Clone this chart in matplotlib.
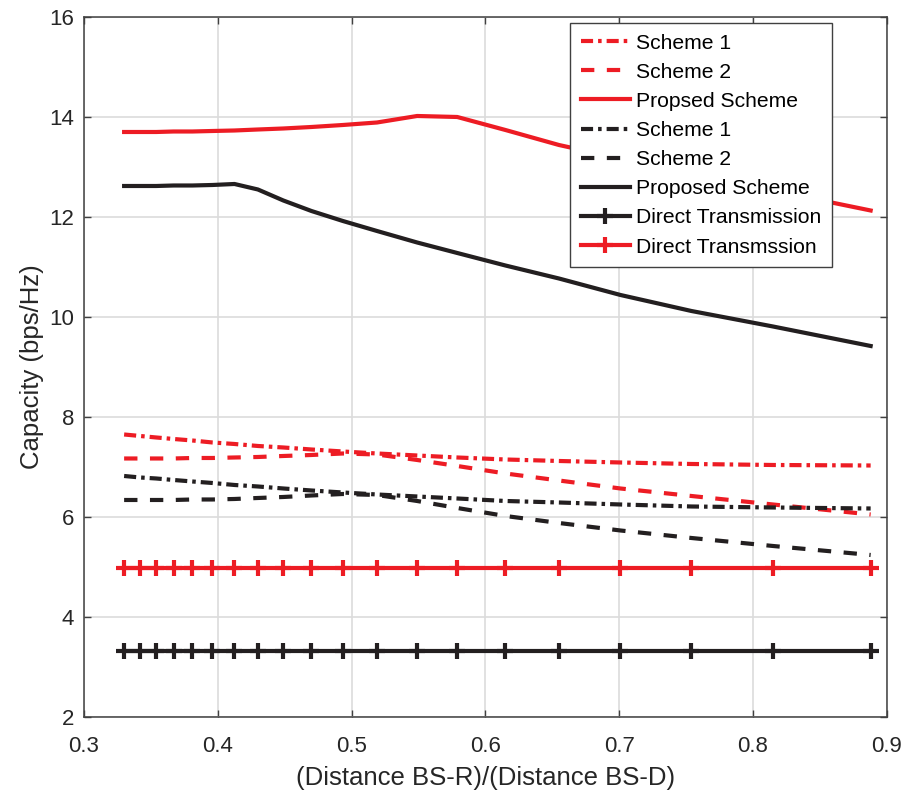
import numpy as np
import matplotlib
matplotlib.use("Agg")
from matplotlib import pyplot as plt

plt.rcParams['font.family'] = ['Liberation Sans', 'DejaVu Sans']

# distance ratio grid
ratio = [0.330, 0.342, 0.354, 0.367, 0.381, 0.396, 0.4125, 0.430, 0.449, 0.470,
         0.4935, 0.519, 0.549, 0.579, 0.615, 0.655, 0.701, 0.754, 0.815, 0.888]

# red curves
red_s1 = [7.65, 7.62, 7.59, 7.56, 7.53, 7.49, 7.46, 7.42, 7.39, 7.35,
          7.31, 7.27, 7.23, 7.19, 7.15, 7.12, 7.09, 7.06, 7.04, 7.03]
red_s2 = [7.17, 7.17, 7.17, 7.17, 7.18, 7.18, 7.19, 7.20, 7.22, 7.24,
          7.27, 7.25, 7.14, 7.02, 6.87, 6.73, 6.57, 6.42, 6.25, 6.05]
red_prop = [13.70, 13.70, 13.70, 13.71, 13.71, 13.72, 13.73, 13.75, 13.77, 13.80,
            13.84, 13.89, 14.02, 14.00, 13.74, 13.44, 13.17, 12.87, 12.53, 12.13]
red_direct = [4.98] * 20

# black curves
blk_s1 = [6.82, 6.79, 6.77, 6.74, 6.71, 6.68, 6.64, 6.61, 6.57, 6.53,
          6.49, 6.45, 6.41, 6.37, 6.32, 6.29, 6.25, 6.21, 6.19, 6.17]
blk_s2 = [6.34, 6.34, 6.34, 6.34, 6.35, 6.35, 6.36, 6.38, 6.40, 6.43,
          6.46, 6.44, 6.32, 6.18, 6.02, 5.88, 5.73, 5.58, 5.42, 5.24]
blk_prop = [12.62, 12.62, 12.62, 12.63, 12.63, 12.64, 12.66, 12.55, 12.33, 12.12,
            11.92, 11.72, 11.49, 11.28, 11.03, 10.77, 10.44, 10.12, 9.81, 9.42]
blk_direct = [3.32] * 20

red = '#ed1c24'
blk = '#231f20'
txt = '#262626'
lw = 3.0
dashdot = (0, (2.9, 1.2, 0.85, 1.2))
dashed = (0, (3.2, 3.0))

fig = plt.figure(figsize=(9.06, 7.94), dpi=100)
ax = fig.add_axes([0.0927, 0.097, 0.886, 0.8816])

ax.plot(ratio, red_s1, linestyle=dashdot, color=red, lw=lw, label='Scheme 1')
ax.plot(ratio, red_s2, linestyle=dashed, color=red, lw=lw, label='Scheme 2')
ax.plot(ratio, red_prop, '-', color=red, lw=lw, label='Propsed Scheme')
ax.plot(ratio, blk_s1, linestyle=dashdot, color=blk, lw=lw, label='Scheme 1')
ax.plot(ratio, blk_s2, linestyle=dashed, color=blk, lw=lw, label='Scheme 2')
ax.plot(ratio, blk_prop, '-', color=blk, lw=lw, label='Proposed Scheme')
ax.plot(ratio, blk_direct, '-', marker='+', ms=11, mew=3.0, color=blk, lw=lw,
        label='Direct Transmission')
ax.plot(ratio, red_direct, '-', marker='+', ms=11, mew=3.0, color=red, lw=lw,
        label='Direct Transmssion')

ax.set_xlim(0.3, 0.9)
ax.set_ylim(2, 16)
ax.set_xticks(np.arange(0.3, 0.91, 0.1))
ax.set_yticks(np.arange(2, 17, 2))
ax.set_xticklabels(['0.3', '0.4', '0.5', '0.6', '0.7', '0.8', '0.9'])
ax.grid(True, color='#dcdcdc', lw=1.2)
ax.set_axisbelow(True)
ax.tick_params(direction='in', top=True, right=True, length=5, width=1,
               colors='#404040', labelsize=16, labelcolor=txt)
ax.tick_params(axis='x', pad=14)
ax.tick_params(axis='y', pad=7)
for sp in ax.spines.values():
    sp.set_color('#404040')
    sp.set_linewidth(1.1)

ax.set_xlabel('(Distance BS-R)/(Distance BS-D)', fontsize=18.5, color=txt,
              labelpad=6)
ax.set_ylabel('Capacity (bps/Hz)', fontsize=18.5, color=txt, labelpad=4)

leg = ax.legend(loc='upper right', bbox_to_anchor=(0.9315, 0.9914),
                borderaxespad=0, fontsize=15.2, handlelength=2.3,
                handletextpad=0.3, labelspacing=0.48, borderpad=0.5,
                fancybox=False, framealpha=1, edgecolor='#404040')
leg.get_frame().set_linewidth(1.0)

plt.savefig('out.png', dpi=100)
